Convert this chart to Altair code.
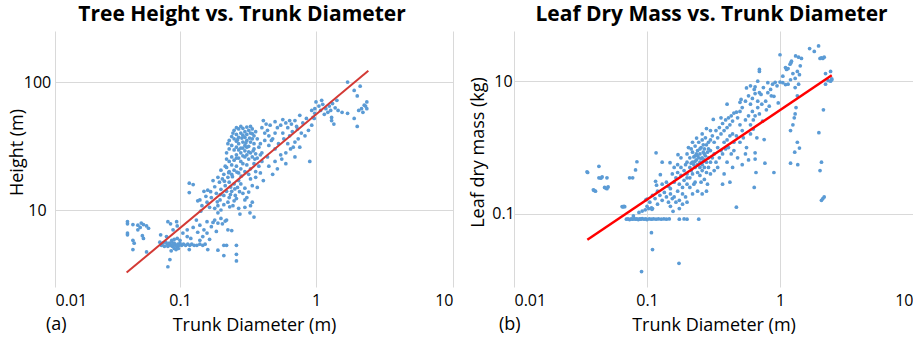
import altair as alt
import pandas as pd

FONT = "Open Sans"
BLUE = "#5b9bd5"

x_ticks = [0.01, 0.1, 1, 10]
a_y_ticks = [10, 100]
b_y_ticks = [0.1, 10]

# ---------------- Panel (a): tree height (m) vs trunk diameter (m) ----------------
a_small = [(0.038, 8.1), (0.038, 7.8), (0.038, 6.6), (0.038, 6.4), (0.042, 7.7), (0.042, 5.8),
           (0.043, 5.5), (0.042, 4.9), (0.046, 7.6), (0.048, 7.3), (0.049, 7.9), (0.051, 7.7),
           (0.054, 7.5), (0.056, 7.2), (0.05, 6.3), (0.051, 6.0), (0.054, 4.7), (0.046, 7.0)]

a_band = [(0.069, 5.6), (0.071, 5.3), (0.073, 5.5), (0.075, 5.2), (0.077, 5.6), (0.079, 5.4),
          (0.08, 5.2), (0.082, 5.5), (0.084, 5.3), (0.086, 5.6), (0.087, 5.2), (0.089, 5.4),
          (0.09, 5.5), (0.092, 5.3), (0.094, 5.2), (0.096, 5.4), (0.098, 5.3), (0.1, 5.5),
          (0.103, 5.3), (0.106, 5.4), (0.11, 5.3), (0.114, 5.4), (0.118, 5.3), (0.122, 5.4),
          (0.127, 5.3), (0.133, 5.3), (0.14, 5.4), (0.147, 5.3), (0.153, 5.4), (0.09, 5.0),
          (0.093, 4.9), (0.097, 5.0), (0.086, 5.8), (0.09, 5.9), (0.095, 6.0), (0.1, 5.8),
          (0.085, 4.8), (0.117, 4.9), (0.16, 4.9), (0.19, 4.85), (0.22, 5.3), (0.26, 5.3),
          (0.21, 4.4), (0.26, 4.5), (0.26, 4.0), (0.083, 4.1), (0.08, 3.6), (0.21, 5.3),
          (0.165, 5.9), (0.12, 6.0)]

a_lowmid = [(0.08, 8.1), (0.094, 8.1), (0.088, 7.0), (0.07, 6.4), (0.078, 6.2), (0.113, 7.0),
            (0.113, 6.2), (0.132, 8.35), (0.14, 7.6), (0.15, 7.0), (0.158, 8.1), (0.18, 8.35),
            (0.19, 7.9), (0.2, 8.6), (0.22, 8.35), (0.225, 7.0), (0.147, 6.2), (0.158, 6.6),
            (0.14, 5.8), (0.125, 7.3), (0.105, 6.6), (0.17, 7.4), (0.205, 7.8), (0.185, 6.8),
            (0.24, 6.9), (0.135, 6.7), (0.095, 7.5), (0.084, 7.8), (0.175, 8.0), (0.215, 8.2)]

a_mid = [(0.117, 16.2), (0.125, 15.8), (0.117, 13.7), (0.14, 12), (0.15, 14), (0.16, 14.3),
         (0.18, 15.2), (0.158, 11.5), (0.19, 10.8), (0.19, 9.5), (0.2, 10), (0.18, 10.3),
         (0.197, 12), (0.21, 13), (0.225, 11.5), (0.245, 10.8), (0.27, 10.3), (0.276, 9.3),
         (0.327, 9.5), (0.35, 8.8), (0.3, 12), (0.34, 11.5), (0.32, 13.8), (0.17, 12.5),
         (0.185, 13.5), (0.2, 14.5), (0.215, 15.5), (0.23, 16.5), (0.24, 14), (0.255, 13),
         (0.265, 15), (0.28, 16), (0.29, 13.5), (0.21, 11), (0.23, 12.5), (0.25, 11.8),
         (0.165, 10.5), (0.145, 10.8), (0.135, 11.8), (0.195, 16.5), (0.205, 17.5), (0.22, 14),
         (0.235, 13.2), (0.26, 12.3), (0.3, 14.8), (0.31, 12.5), (0.27, 17), (0.25, 16),
         (0.225, 18), (0.21, 19), (0.19, 18), (0.175, 17), (0.3, 10.5), (0.33, 10.8),
         (0.2, 20.5), (0.22, 21.5), (0.212, 16.8), (0.243, 18.2), (0.262, 19.8), (0.282, 18.4),
         (0.236, 15.1), (0.253, 14.6), (0.274, 13.9), (0.228, 19.6), (0.198, 13.2),
         (0.188, 11.6), (0.168, 13.9), (0.155, 12.8), (0.142, 9.8), (0.232, 10.6)]

a_dense = [(0.24, 19), (0.25, 20.5), (0.26, 22), (0.27, 19.5), (0.28, 21), (0.29, 23), (0.3, 20),
           (0.31, 22.5), (0.32, 19), (0.33, 21), (0.35, 23), (0.36, 20), (0.23, 24), (0.24, 26),
           (0.25, 24.5), (0.26, 27), (0.27, 25.5), (0.28, 28), (0.29, 26.5), (0.3, 29), (0.31, 27),
           (0.32, 25), (0.33, 28), (0.34, 26), (0.35, 30), (0.36, 27.5), (0.22, 28), (0.23, 30),
           (0.24, 32), (0.25, 29.5), (0.26, 31), (0.27, 33), (0.28, 30.5), (0.29, 34), (0.3, 32),
           (0.31, 35), (0.32, 31.5), (0.33, 34), (0.34, 36), (0.35, 33), (0.23, 35), (0.24, 37.5),
           (0.25, 36), (0.26, 39), (0.27, 37), (0.28, 40), (0.29, 38.5), (0.3, 41), (0.31, 39),
           (0.32, 42), (0.33, 40), (0.34, 43), (0.35, 38), (0.25, 42), (0.26, 44), (0.27, 43),
           (0.28, 45), (0.29, 43.5), (0.31, 44.5), (0.33, 45), (0.36, 41), (0.37, 36), (0.38, 31),
           (0.39, 27), (0.4, 24), (0.38, 22), (0.24, 22.5), (0.26, 25.5), (0.28, 24), (0.3, 26),
           (0.32, 28.5), (0.22, 25), (0.215, 22), (0.23, 20), (0.27, 29.5), (0.29, 30.5),
           (0.31, 31), (0.26, 34.5), (0.3, 37), (0.34, 39.5), (0.225, 33), (0.245, 40),
           (0.265, 35.5), (0.285, 36.5), (0.305, 33.5), (0.325, 36.5), (0.345, 29), (0.355, 25),
           (0.37, 25.5), (0.36, 18), (0.33, 17.5), (0.34, 15.5), (0.37, 15), (0.39, 19.5)]

a_upper = [(0.41, 50), (0.46, 46), (0.57, 51), (0.64, 50), (0.76, 55), (0.57, 40), (0.64, 38),
           (0.68, 31), (0.76, 31), (0.9, 24), (0.48, 19), (0.41, 17), (0.4, 44), (0.42, 40),
           (0.44, 42), (0.45, 38), (0.47, 35), (0.5, 40), (0.52, 44), (0.55, 46), (0.6, 48),
           (0.62, 44), (0.66, 47), (0.7, 50), (0.72, 45), (0.8, 48), (0.85, 52), (0.88, 42),
           (0.83, 38), (0.78, 40), (0.74, 36), (0.7, 34), (0.65, 30), (0.6, 28), (0.55, 27),
           (0.5, 30), (0.45, 32), (0.42, 35), (0.48, 36), (0.53, 33), (0.58, 36), (0.62, 33),
           (0.4, 28), (0.44, 26), (0.5, 24), (0.56, 25), (0.6, 23), (0.45, 22), (0.52, 21),
           (0.7, 26), (0.67, 41), (0.73, 43), (0.93, 46), (0.95, 53), (0.98, 57), (0.43, 47),
           (0.5, 49), (0.39, 33)]

a_large = [(1.0, 70), (1.08, 60), (1.25, 65), (1.3, 53), (1.35, 47), (1.42, 72), (1.7, 57),
           (1.7, 100), (1.9, 86), (2.1, 93), (2.0, 78), (2.3, 65), (2.35, 70), (2.05, 60),
           (2.0, 45), (1.9, 52), (2.35, 62), (2.15, 62), (1.05, 65), (1.12, 67), (1.18, 62),
           (1.22, 58), (1.28, 60), (1.32, 68), (1.15, 56), (1.38, 63), (1.45, 60), (1.55, 58),
           (1.1, 72), (0.98, 62), (0.93, 60), (0.97, 52), (2.2, 58), (2.25, 66), (1.3, 50)]

a_line_diam = [0.0374, 2.41]
a_line_height = [3.24, 122.5]

# ---------------- Panel (b): leaf dry mass (kg) vs trunk diameter (m) ----------------
b_left = [(0.0354, 0.43), (0.0358, 0.42), (0.040, 0.225), (0.041, 0.22), (0.0395, 0.23),
          (0.0435, 0.52), (0.0435, 0.35), (0.045, 0.345), (0.046, 0.36), (0.048, 0.25),
          (0.050, 0.24), (0.051, 0.255), (0.050, 0.35), (0.049, 0.245)]

b_small = [(0.074, 0.35), (0.078, 0.35), (0.082, 0.46), (0.084, 0.61), (0.065, 0.129),
           (0.067, 0.13), (0.068, 0.128), (0.066, 0.127), (0.117, 0.83), (0.13, 0.6),
           (0.098, 0.163), (0.1, 0.167), (0.108, 0.123), (0.157, 0.109)]

b_band = [(0.07, 0.083), (0.072, 0.084), (0.074, 0.082), (0.076, 0.084), (0.078, 0.083),
          (0.08, 0.085), (0.082, 0.083), (0.084, 0.084), (0.086, 0.082), (0.088, 0.084),
          (0.09, 0.083), (0.092, 0.085), (0.095, 0.083), (0.098, 0.084), (0.1, 0.082),
          (0.104, 0.084), (0.108, 0.083), (0.112, 0.084), (0.117, 0.083), (0.122, 0.084),
          (0.128, 0.083), (0.134, 0.084), (0.14, 0.083), (0.147, 0.084), (0.175, 0.083),
          (0.19, 0.084), (0.2, 0.083), (0.245, 0.083), (0.079, 0.093), (0.087, 0.105),
          (0.092, 0.11), (0.097, 0.115), (0.103, 0.12), (0.109, 0.117)]

b_outliers = [(0.108, 0.052), (0.11, 0.029), (0.091, 0.0135), (0.174, 0.018), (0.47, 0.126)]

b_core = [(0.1, 0.13), (0.105, 0.15), (0.11, 0.12), (0.115, 0.17), (0.12, 0.14), (0.125, 0.19),
          (0.13, 0.16), (0.135, 0.21), (0.14, 0.18), (0.145, 0.26), (0.15, 0.2), (0.12, 0.22),
          (0.13, 0.28), (0.14, 0.3), (0.15, 0.24), (0.118, 0.27), (0.145, 0.15), (0.15, 0.13),
          (0.155, 0.17), (0.11, 0.19), (0.126, 0.39), (0.116, 0.31),
          (0.16, 0.3), (0.165, 0.35), (0.17, 0.22), (0.17, 0.42), (0.175, 0.28), (0.18, 0.38),
          (0.18, 0.5), (0.185, 0.25), (0.19, 0.45), (0.19, 0.32), (0.195, 0.55), (0.2, 0.4),
          (0.2, 0.6), (0.16, 0.18), (0.165, 0.15), (0.175, 0.16), (0.185, 0.2), (0.195, 0.18),
          (0.2, 0.28), (0.17, 0.55), (0.16, 0.5), (0.155, 0.4), (0.18, 0.7), (0.171, 0.78),
          (0.149, 0.59), (0.2, 0.35), (0.185, 0.14), (0.2, 0.15), (0.175, 0.12),
          (0.21, 0.5), (0.21, 0.7), (0.215, 0.45), (0.22, 0.6), (0.22, 0.85), (0.225, 0.55),
          (0.23, 0.75), (0.23, 0.5), (0.235, 0.65), (0.24, 0.9), (0.24, 0.55), (0.245, 0.7),
          (0.25, 0.8), (0.25, 0.6), (0.255, 1.0), (0.26, 0.7), (0.26, 0.55), (0.265, 0.85),
          (0.27, 0.95), (0.27, 0.65), (0.275, 0.75), (0.28, 1.1), (0.28, 0.6), (0.285, 0.85),
          (0.29, 0.7), (0.29, 1.2), (0.3, 0.9), (0.3, 0.6), (0.21, 0.35), (0.22, 0.4),
          (0.23, 0.3), (0.24, 0.42), (0.25, 0.38), (0.26, 0.45), (0.27, 0.5), (0.28, 0.42),
          (0.29, 0.5), (0.215, 0.95), (0.23, 1.05), (0.245, 1.2), (0.26, 1.3), (0.275, 1.4),
          (0.235, 0.8), (0.25, 0.95), (0.265, 0.62), (0.21, 0.25), (0.225, 0.28), (0.24, 0.22),
          (0.255, 0.3), (0.27, 0.33), (0.285, 0.28), (0.3, 0.4), (0.22, 0.2), (0.26, 0.2),
          (0.28, 0.22), (0.24, 0.75), (0.255, 0.68), (0.27, 0.8), (0.2, 0.8), (0.205, 1.0),
          (0.215, 0.58), (0.225, 0.72), (0.265, 1.1), (0.29, 0.95), (0.3, 1.3), (0.22, 1.2),
          (0.236, 1.39), (0.26, 1.6), (0.28, 1.93), (0.23, 0.62), (0.25, 0.5)]

b_upper = [(0.31, 1.5), (0.32, 1.2), (0.32, 0.8), (0.33, 1.8), (0.34, 1.4), (0.34, 1.0),
           (0.35, 2.0), (0.36, 1.6), (0.36, 0.9), (0.37, 2.3), (0.38, 1.8), (0.38, 1.2),
           (0.39, 2.6), (0.4, 2.0), (0.4, 1.3), (0.41, 2.8), (0.42, 2.2), (0.42, 1.5),
           (0.43, 3.0), (0.44, 2.5), (0.44, 1.6), (0.45, 3.3), (0.31, 0.7), (0.33, 0.6),
           (0.35, 0.7), (0.37, 0.8), (0.39, 0.95), (0.41, 1.0), (0.43, 0.8), (0.45, 1.2),
           (0.3, 1.8), (0.315, 2.65), (0.36, 2.8), (0.34, 0.5), (0.4, 0.6), (0.44, 0.5),
           (0.32, 0.45), (0.38, 0.4), (0.42, 0.3), (0.37, 0.28), (0.4, 4.5), (0.47, 3.4),
           (0.5, 4.8), (0.48, 2.8), (0.5, 3.5), (0.51, 5.3), (0.52, 4.0), (0.55, 5.0),
           (0.56, 7.9), (0.6, 8.5), (0.65, 8.2), (0.64, 7.5), (0.58, 6.0), (0.6, 4.5),
           (0.62, 5.5), (0.65, 6.5), (0.68, 5.0), (0.7, 6.7), (0.5, 2.2), (0.52, 1.8),
           (0.55, 2.6), (0.58, 3.0), (0.6, 2.2), (0.62, 3.5), (0.65, 3.0), (0.68, 4.0),
           (0.47, 1.5), (0.5, 1.2), (0.53, 1.4), (0.56, 1.0), (0.6, 1.6), (0.63, 1.9),
           (0.67, 1.4), (0.48, 0.7), (0.52, 0.55), (0.55, 0.8), (0.45, 0.9), (0.58, 0.65),
           (0.63, 2.6), (0.7, 3.2), (0.74, 2.5)]

b_large = [(0.65, 0.83), (0.65, 0.67), (0.64, 0.25), (0.66, 0.42), (0.7, 15), (0.7, 14),
           (0.72, 6.3), (0.79, 3.7), (0.81, 9.5), (0.88, 9.0), (1.0, 9.7), (0.9, 5.9),
           (0.81, 6.7), (0.76, 1.32), (0.77, 0.58), (0.9, 0.42), (0.97, 4.7), (1.1, 8.9),
           (0.75, 8.0), (0.73, 4.5), (0.85, 7.5), (0.92, 9.6), (0.78, 5.0), (0.83, 4.2),
           (0.86, 6.0), (0.95, 8.5), (0.68, 10), (1.0, 25), (1.19, 18), (1.21, 19), (1.31, 24),
           (1.38, 23), (1.42, 17), (1.67, 31), (1.81, 28), (1.95, 34), (2.0, 22), (2.1, 22),
           (2.15, 23), (2.2, 13), (2.4, 14), (2.45, 10.5), (2.2, 9.0), (2.4, 10), (2.12, 3.7),
           (1.96, 1.67), (2.05, 0.6), (2.0, 0.45), (2.05, 0.16), (2.1, 0.17), (2.15, 0.18),
           (1.32, 4.0), (1.3, 3.2), (1.28, 2.8), (1.25, 2.2), (1.2, 1.8), (1.35, 1.2),
           (1.4, 0.98), (1.29, 0.85), (1.2, 0.58), (1.36, 0.55), (1.05, 11.9), (1.12, 15),
           (1.15, 15.5), (1.25, 13), (1.3, 11), (1.35, 14), (1.1, 16), (1.4, 12.5), (1.22, 20),
           (1.05, 9.5), (1.15, 9.0), (1.2, 10.5), (1.3, 8.0), (1.35, 6.0), (1.38, 9.0),
           (2.45, 10.8), (2.3, 10.2), (2.05, 22.5), (1.45, 22)]

b_line_diam = [0.0356, 2.45]
b_line_mass = [0.0406, 12.3]

a_points = a_small + a_band + a_lowmid + a_mid + a_dense + a_upper + a_large
b_points = b_left + b_small + b_band + b_outliers + b_core + b_upper + b_large


def panel(points, line_x, line_y, title, ytitle, tag, xscale, yscale, yticks,
          line_color, line_w, width, height, ylabel_pad, ytitle_x, title_dx, tag_x):
    df = pd.DataFrame(points, columns=["d", "v"])
    ldf = pd.DataFrame({"d": line_x, "v": line_y})
    tdf = pd.DataFrame({"tag": [tag]})
    xaxis = alt.Axis(values=x_ticks, format="~g", title="Trunk Diameter (m)", grid=True,
                     domain=False, ticks=False, labelPadding=5, titleY=43,
                     titleBaseline="alphabetic")
    yaxis = alt.Axis(values=yticks, format="~g", title=ytitle, grid=True, domain=False,
                     ticks=False, labelAlign="center", labelBaseline="middle",
                     labelPadding=ylabel_pad, titleX=ytitle_x, titleY=121,
                     titleBaseline="bottom")
    pts = alt.Chart(df).mark_circle(size=14, color=BLUE, opacity=1).encode(
        x=alt.X("d:Q", scale=xscale, axis=xaxis),
        y=alt.Y("v:Q", scale=yscale, axis=yaxis),
    )
    line = alt.Chart(ldf).mark_line(color=line_color, strokeWidth=line_w).encode(
        x=alt.X("d:Q", scale=xscale),
        y=alt.Y("v:Q", scale=yscale),
    )
    lab = alt.Chart(tdf).mark_text(align="left", baseline="alphabetic", font=FONT,
                                   fontSize=18, color="black").encode(
        x=alt.value(tag_x), y=alt.value(height + 43), text="tag:N")
    return alt.layer(pts, line, lab).properties(
        width=width, height=height,
        title=alt.TitleParams(title, font=FONT, fontSize=21, fontWeight="bold",
                              color="black", anchor="middle", baseline="alphabetic",
                              offset=-11, dx=title_dx),
    )


a_xscale = alt.Scale(type="log", domain=[0.01, 0.1, 1, 10], range=[0, 125, 261, 398], nice=False)
b_xscale = alt.Scale(type="log", domain=[0.01, 10], nice=False)
a_yscale = alt.Scale(type="log", domain=[2.5, 251], nice=False)
b_yscale = alt.Scale(type="log", domain=[0.0079, 57], nice=False)

pa = panel(a_points, a_line_diam, a_line_height, "Tree Height vs. Trunk Diameter", "Height (m)",
           "(a)", a_xscale, a_yscale, a_y_ticks, "#d33a35", 2, 398, 256, 18, -29, -12, -9)
pb = panel(b_points, b_line_diam, b_line_mass, "Leaf Dry Mass vs. Trunk Diameter",
           "Leaf dry mass (kg)", "(b)", b_xscale, b_yscale, b_y_ticks, "#ff0000", 2.5, 399, 256,
           11, -27, -2, -15)

chart = alt.hconcat(pa, pb, spacing=61, bounds="flush").properties(
    padding={"left": 8, "top": 4, "right": 0, "bottom": 0}
).configure_view(stroke=None).configure_axis(
    labelFont=FONT, labelFontSize=16, labelColor="black",
    titleFont=FONT, titleFontSize=18, titleFontWeight="normal", titleColor="black",
    gridColor="#d9d9d9", gridWidth=1,
)

chart.save("out.html", embed_options={"renderer": "svg", "actions": False})
